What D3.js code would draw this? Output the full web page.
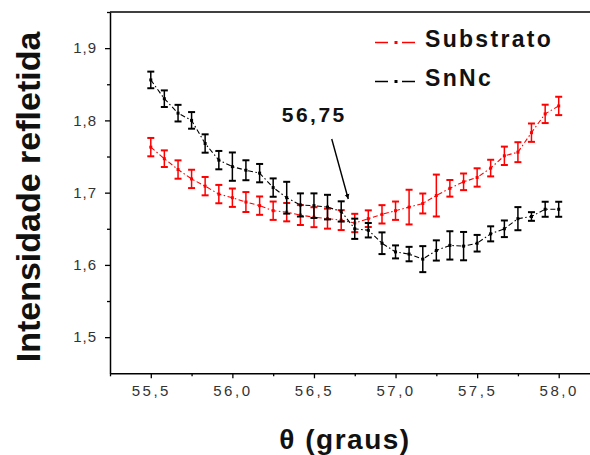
<!DOCTYPE html>
<html><head><meta charset="utf-8">
<script src="https://cdn.jsdelivr.net/npm/d3@7"></script>
<style>html,body{margin:0;padding:0;background:#fff;overflow:hidden}svg{display:block}</style>
</head><body>
<svg id="c" width="590" height="455"></svg>
<script>
const theta = [55.5,55.583,55.667,55.75,55.833,55.917,56.0,56.083,56.167,56.25,56.333,56.417,56.5,56.583,56.667,56.75,56.833,56.917,57.0,57.083,57.167,57.25,57.333,57.417,57.5,57.583,57.667,57.75,57.833,57.917,58.0];
const substrato = [1.763,1.747,1.732,1.719,1.709,1.698,1.693,1.687,1.682,1.675,1.673,1.669,1.666,1.664,1.662,1.658,1.664,1.670,1.675,1.680,1.685,1.696,1.706,1.715,1.721,1.734,1.751,1.756,1.783,1.809,1.820];
const substratoErr = [0.0127,0.0115,0.0127,0.0127,0.0127,0.0127,0.0127,0.0138,0.0127,0.0127,0.0127,0.0138,0.0138,0.0138,0.0138,0.0127,0.0115,0.0127,0.0127,0.024,0.0138,0.029,0.0115,0.0115,0.0127,0.0115,0.0127,0.0138,0.0127,0.0127,0.0127];
const snnc = [1.856,1.830,1.810,1.800,1.768,1.745,1.736,1.731,1.727,1.707,1.693,1.683,1.682,1.680,1.674,1.650,1.648,1.630,1.618,1.615,1.608,1.620,1.627,1.626,1.630,1.643,1.650,1.664,1.667,1.677,1.677];
const snncErr = [0.0115,0.0115,0.0115,0.0115,0.0127,0.0127,0.0196,0.0138,0.0127,0.0127,0.022,0.016,0.017,0.017,0.014,0.014,0.01,0.015,0.009,0.01,0.018,0.014,0.0196,0.0196,0.0115,0.0104,0.0115,0.016,0.006,0.0104,0.0104];
const seriesNames = ["Substrato","SnNc"];
const seriesColors = ["#ff0000","#000000"];
const xTicks = [55.5,56.0,56.5,57.0,57.5,58.0];
const xMinor = [55.25,55.75,56.25,56.75,57.25,57.75];
const yTicks = [1.5,1.6,1.7,1.8,1.9];
const yMinor = [1.55,1.65,1.75,1.85,1.95];
const annotation = {label:"56,75", x:56.75};
const xTitle = "θ (graus)";
const yTitle = "Intensidade refletida";

const svg = d3.select("#c");
const x = d3.scaleLinear().domain([55.25,58.25]).range([110,599.5]);
const y = d3.scaleLinear().domain([1.45,1.95]).range([373.3,12]);
const fmt = d => d3.format(".1f")(d).replace(".", ",");
const font = "'Liberation Sans', Arial, sans-serif";

// frame top line
svg.append("line").attr("x1",x.range()[0]).attr("x2",x.range()[1]).attr("y1",y(1.95)).attr("y2",y(1.95))
  .attr("stroke","#000").attr("stroke-width",1.5);

// axes
const gx = svg.append("g").attr("transform",`translate(0,${y(1.45)})`)
  .call(d3.axisBottom(x).tickValues(xTicks).tickSize(5).tickSizeOuter(0).tickPadding(7).tickFormat(fmt));
const gxm = svg.append("g").attr("transform",`translate(0,${y(1.45)})`)
  .call(d3.axisBottom(x).tickValues(xMinor).tickSize(3).tickSizeOuter(0).tickFormat(""));
gxm.select(".domain").remove();
const gy = svg.append("g").attr("transform",`translate(${x(55.25)},0)`)
  .call(d3.axisLeft(y).tickValues(yTicks).tickSize(5).tickSizeOuter(0).tickPadding(8).tickFormat(fmt));
const gym = svg.append("g").attr("transform",`translate(${x(55.25)},0)`)
  .call(d3.axisLeft(y).tickValues(yMinor).tickSize(3).tickSizeOuter(0).tickFormat(""));
gym.select(".domain").remove();
svg.selectAll(".domain").attr("stroke-width",1.5);
svg.selectAll(".tick line").attr("stroke-width",1.3);
gx.selectAll("text").attr("font-family",font).attr("font-size",15).attr("fill","#333").attr("letter-spacing",2.5);
gy.selectAll("text").attr("font-family",font).attr("font-size",15).attr("fill","#333").attr("letter-spacing",1);

// series
const series = [
  {name:seriesNames[0], color:seriesColors[0], vals:substrato, err:substratoErr},
  {name:seriesNames[1], color:seriesColors[1], vals:snnc, err:snncErr}
];
series.forEach(s => {
  const pts = theta.map((t,i)=>({t, v:s.vals[i], e:s.err[i]}));
  const g = svg.append("g");
  g.append("path").datum(pts)
    .attr("d", d3.line().x(d=>x(d.t)).y(d=>y(d.v)))
    .attr("fill","none").attr("stroke",s.color).attr("stroke-width",1.1)
    .attr("stroke-dasharray","5,2.5,1.5,2.5");
  const eb = g.selectAll(".eb").data(pts).join("g");
  eb.append("line").attr("x1",d=>x(d.t)).attr("x2",d=>x(d.t))
    .attr("y1",d=>y(d.v-d.e)).attr("y2",d=>y(d.v+d.e))
    .attr("stroke",s.color).attr("stroke-width",1.5);
  [-1,1].forEach(sg=>{
    eb.append("line").attr("x1",d=>x(d.t)-3.5).attr("x2",d=>x(d.t)+3.5)
      .attr("y1",d=>y(d.v+sg*d.e)).attr("y2",d=>y(d.v+sg*d.e))
      .attr("stroke",s.color).attr("stroke-width",2);
  });
  eb.append("rect").attr("x",d=>x(d.t)-1.5).attr("y",d=>y(d.v)-1.5).attr("width",3).attr("height",3)
    .attr("fill",s.color);
});

// legend
series.forEach((s,i)=>{
  const ly = 42.5 + i*39;
  const g = svg.append("g");
  g.append("line").attr("x1",375).attr("x2",388).attr("y1",ly).attr("y2",ly).attr("stroke",s.color).attr("stroke-width",1.5);
  g.append("line").attr("x1",402).attr("x2",415).attr("y1",ly).attr("y2",ly).attr("stroke",s.color).attr("stroke-width",1.5);
  g.append("rect").attr("x",394.5).attr("y",ly-1.5).attr("width",3).attr("height",3).attr("fill",s.color);
  g.append("text").attr("x",425).attr("y",ly+4.5+ (i?-0.5:0)).text(s.name)
    .attr("font-family",font).attr("font-weight","bold").attr("font-size",23).attr("letter-spacing",2.3).attr("fill","#111");
});

// annotation
const defs = svg.append("defs");
defs.append("marker").attr("id","ah").attr("viewBox","0 0 10 10").attr("refX",10).attr("refY",5)
  .attr("markerWidth",5).attr("markerHeight",8).attr("markerUnits","userSpaceOnUse")
  .attr("orient","auto")
  .append("path").attr("d","M0,0 L10,5 L0,10 Z").attr("fill","#000");
const ax = x(annotation.x), ayTip = y(substrato[theta.indexOf(annotation.x)]) - 24;
svg.append("line").attr("x1",ax-23).attr("y1",139).attr("x2",ax-6.5).attr("y2",ayTip)
  .attr("stroke","#000").attr("stroke-width",1.4).attr("marker-end","url(#ah)");
svg.append("text").attr("x",ax-73).attr("y",122).text(annotation.label)
  .attr("font-family",font).attr("font-weight","bold").attr("font-size",21).attr("letter-spacing",2.5).attr("fill","#111");

// axis titles
svg.append("text").attr("transform",`translate(40,197) rotate(-90)`).attr("text-anchor","middle")
  .text(yTitle).attr("font-family",font).attr("font-weight","bold").attr("font-size",34).attr("fill","#111");
svg.append("text").attr("x",345).attr("y",449).attr("text-anchor","middle")
  .text(xTitle).attr("font-family",font).attr("font-weight","bold").attr("font-size",28).attr("letter-spacing",1.5).attr("fill","#111");
</script>
</body></html>
